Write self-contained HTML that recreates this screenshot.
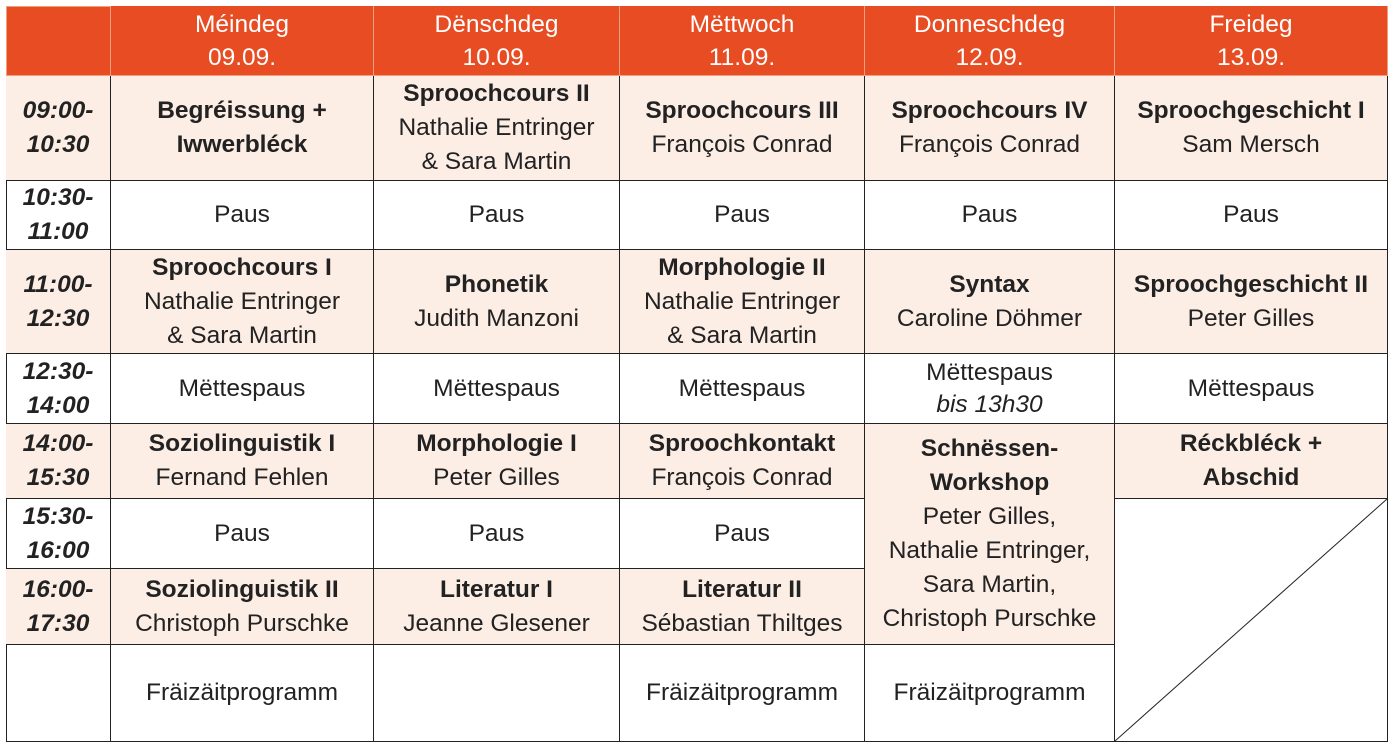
<!DOCTYPE html>
<html><head><meta charset="utf-8"><style>
body{margin:0;width:1393px;height:750px;background:#fff;position:relative;font-family:"Liberation Sans",sans-serif;color:#222;overflow:hidden}
.c{position:absolute;box-sizing:border-box;border-right:1px solid #222;border-bottom:1px solid #222;display:flex;flex-direction:column;justify-content:center;align-items:center;text-align:center;font-size:24.5px;line-height:34px;white-space:nowrap}
.h{background:#E84C22;color:#fff;border-color:#f0a080;line-height:33px}
.s{background:#FCEDE5}
b{font-weight:bold}
.t{font-weight:bold;font-style:italic}
</style></head><body>
<div style="position:absolute;left:6px;top:6px;width:1382px;height:736px;border-left:1px solid #222;border-top:1px solid #222;box-sizing:border-box"></div>
<div class="c h" style="left:6px;top:6px;width:105px;height:70px;border-left:1px solid #f0a080;border-top:1px solid #f0a080"></div>
<div class="c h" style="left:111px;top:6px;width:263px;height:70px">Méindeg<span>09.09.</span></div>
<div class="c h" style="left:374px;top:6px;width:246px;height:70px">Dënschdeg<span>10.09.</span></div>
<div class="c h" style="left:620px;top:6px;width:245px;height:70px">Mëttwoch<span>11.09.</span></div>
<div class="c h" style="left:865px;top:6px;width:250px;height:70px">Donneschdeg<span>12.09.</span></div>
<div class="c h" style="left:1115px;top:6px;width:273px;height:70px">Freideg<span>13.09.</span></div>
<div class="c s t" style="left:6px;top:76px;width:105px;height:105px">09:00-<br>10:30</div>
<div class="c t" style="left:6px;top:181px;width:105px;height:69px">10:30-<br>11:00</div>
<div class="c s t" style="left:6px;top:250px;width:105px;height:104px">11:00-<br>12:30</div>
<div class="c t" style="left:6px;top:354px;width:105px;height:70px">12:30-<br>14:00</div>
<div class="c s t" style="left:6px;top:424px;width:105px;height:75px">14:00-<br>15:30</div>
<div class="c t" style="left:6px;top:499px;width:105px;height:70px">15:30-<br>16:00</div>
<div class="c s t" style="left:6px;top:569px;width:105px;height:76px">16:00-<br>17:30</div>
<div class="c" style="left:6px;top:645px;width:105px;height:97px"></div>
<div class="c s" style="left:111px;top:76px;width:263px;height:105px"><b>Begréissung +</b><b>Iwwerbléck</b></div>
<div class="c" style="left:111px;top:181px;width:263px;height:69px">Paus</div>
<div class="c s" style="left:111px;top:250px;width:263px;height:104px"><b>Sproochcours I</b><span>Nathalie Entringer</span><span>&amp; Sara Martin</span></div>
<div class="c" style="left:111px;top:354px;width:263px;height:70px">Mëttespaus</div>
<div class="c s" style="left:111px;top:424px;width:263px;height:75px"><b>Soziolinguistik I</b><span>Fernand Fehlen</span></div>
<div class="c" style="left:111px;top:499px;width:263px;height:70px">Paus</div>
<div class="c s" style="left:111px;top:569px;width:263px;height:76px"><b>Soziolinguistik II</b><span>Christoph Purschke</span></div>
<div class="c" style="left:111px;top:645px;width:263px;height:97px">Fräizäitprogramm</div>
<div class="c s" style="left:374px;top:76px;width:246px;height:105px"><b>Sproochcours II</b><span>Nathalie Entringer</span><span>&amp; Sara Martin</span></div>
<div class="c" style="left:374px;top:181px;width:246px;height:69px">Paus</div>
<div class="c s" style="left:374px;top:250px;width:246px;height:104px"><b>Phonetik</b><span>Judith Manzoni</span></div>
<div class="c" style="left:374px;top:354px;width:246px;height:70px">Mëttespaus</div>
<div class="c s" style="left:374px;top:424px;width:246px;height:75px"><b>Morphologie I</b><span>Peter Gilles</span></div>
<div class="c" style="left:374px;top:499px;width:246px;height:70px">Paus</div>
<div class="c s" style="left:374px;top:569px;width:246px;height:76px"><b>Literatur I</b><span>Jeanne Glesener</span></div>
<div class="c" style="left:374px;top:645px;width:246px;height:97px"></div>
<div class="c s" style="left:620px;top:76px;width:245px;height:105px"><b>Sproochcours III</b><span>François Conrad</span></div>
<div class="c" style="left:620px;top:181px;width:245px;height:69px">Paus</div>
<div class="c s" style="left:620px;top:250px;width:245px;height:104px"><b>Morphologie II</b><span>Nathalie Entringer</span><span>&amp; Sara Martin</span></div>
<div class="c" style="left:620px;top:354px;width:245px;height:70px">Mëttespaus</div>
<div class="c s" style="left:620px;top:424px;width:245px;height:75px"><b>Sproochkontakt</b><span>François Conrad</span></div>
<div class="c" style="left:620px;top:499px;width:245px;height:70px">Paus</div>
<div class="c s" style="left:620px;top:569px;width:245px;height:76px"><b>Literatur II</b><span>Sébastian Thiltges</span></div>
<div class="c" style="left:620px;top:645px;width:245px;height:97px">Fräizäitprogramm</div>
<div class="c s" style="left:865px;top:76px;width:250px;height:105px"><b>Sproochcours IV</b><span>François Conrad</span></div>
<div class="c" style="left:865px;top:181px;width:250px;height:69px">Paus</div>
<div class="c s" style="left:865px;top:250px;width:250px;height:104px"><b>Syntax</b><span>Caroline Döhmer</span></div>
<div class="c" style="left:865px;top:354px;width:250px;height:70px;line-height:32px">Mëttespaus<i>bis 13h30</i></div>
<div class="c s" style="left:865px;top:424px;width:250px;height:221px"><b>Schnëssen-</b><b>Workshop</b><span>Peter Gilles,</span><span>Nathalie Entringer,</span><span>Sara Martin,</span><span>Christoph Purschke</span></div>
<div class="c" style="left:865px;top:645px;width:250px;height:97px">Fräizäitprogramm</div>
<div class="c s" style="left:1115px;top:76px;width:273px;height:105px"><b>Sproochgeschicht I</b><span>Sam Mersch</span></div>
<div class="c" style="left:1115px;top:181px;width:273px;height:69px">Paus</div>
<div class="c s" style="left:1115px;top:250px;width:273px;height:104px"><b>Sproochgeschicht II</b><span>Peter Gilles</span></div>
<div class="c" style="left:1115px;top:354px;width:273px;height:70px">Mëttespaus</div>
<div class="c s" style="left:1115px;top:424px;width:273px;height:75px"><b>Réckbléck +</b><b>Abschid</b></div>
<div class="c" style="left:1115px;top:499px;width:273px;height:243px"></div>
<svg style="position:absolute;left:1115px;top:499px" width="273" height="243"><line x1="272" y1="0" x2="0" y2="242" stroke="#222" stroke-width="1"/></svg>
</body></html>
